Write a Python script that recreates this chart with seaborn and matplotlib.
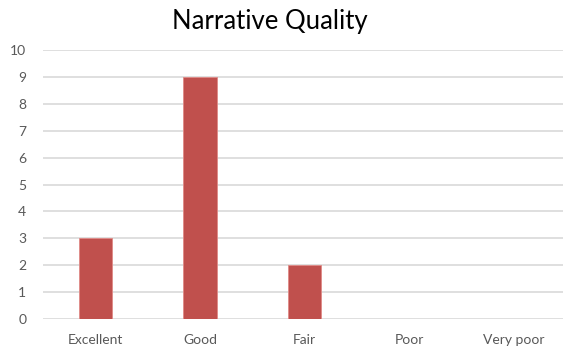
import matplotlib
matplotlib.use("Agg")
import matplotlib.pyplot as plt
import seaborn as sns
import pandas as pd

categories = ["Excellent", "Good", "Fair", "Poor", "Very poor"]
counts = [3, 9, 2, 0, 0]
y_ticks = list(range(0, 11))

sns.set_theme(style="white")
plt.rcParams["font.family"] = ["Lato", "DejaVu Sans"]

df = pd.DataFrame({"rating": categories, "count": counts})

W, H = 563, 351
fig = plt.figure(figsize=(W / 100, H / 100), dpi=100)
ax = fig.add_axes([43 / W, (H - 319) / H, (566 - 43) / W, (319 - 50) / H])

sns.barplot(data=df, x="rating", y="count", order=categories, color="#C0504D",
            width=0.32, saturation=1, edgecolor="#E08A87", linewidth=0.6,
            ax=ax, zorder=3)

ax.set_ylim(0, 10)
ax.set_xlim(-0.5, 4.5)
ax.set_yticks(y_ticks)
ax.yaxis.grid(True, color="#D9D9D9", linewidth=1.2, zorder=0)
ax.xaxis.grid(False)
for s in ax.spines.values():
    s.set_visible(False)
ax.set_xlabel("")
ax.set_ylabel("")
ax.tick_params(axis="both", length=0, labelsize=10, colors="#595959")
ax.tick_params(axis="y", pad=12)
ax.tick_params(axis="x", pad=11)
for lbl in ax.get_yticklabels():
    lbl.set_horizontalalignment("right")

fig.text(270 / W, 1 - 22 / H, "Narrative Quality", ha="center", va="center",
         fontsize=18.5, color="#000000")

fig.savefig("out.png", dpi=100)
